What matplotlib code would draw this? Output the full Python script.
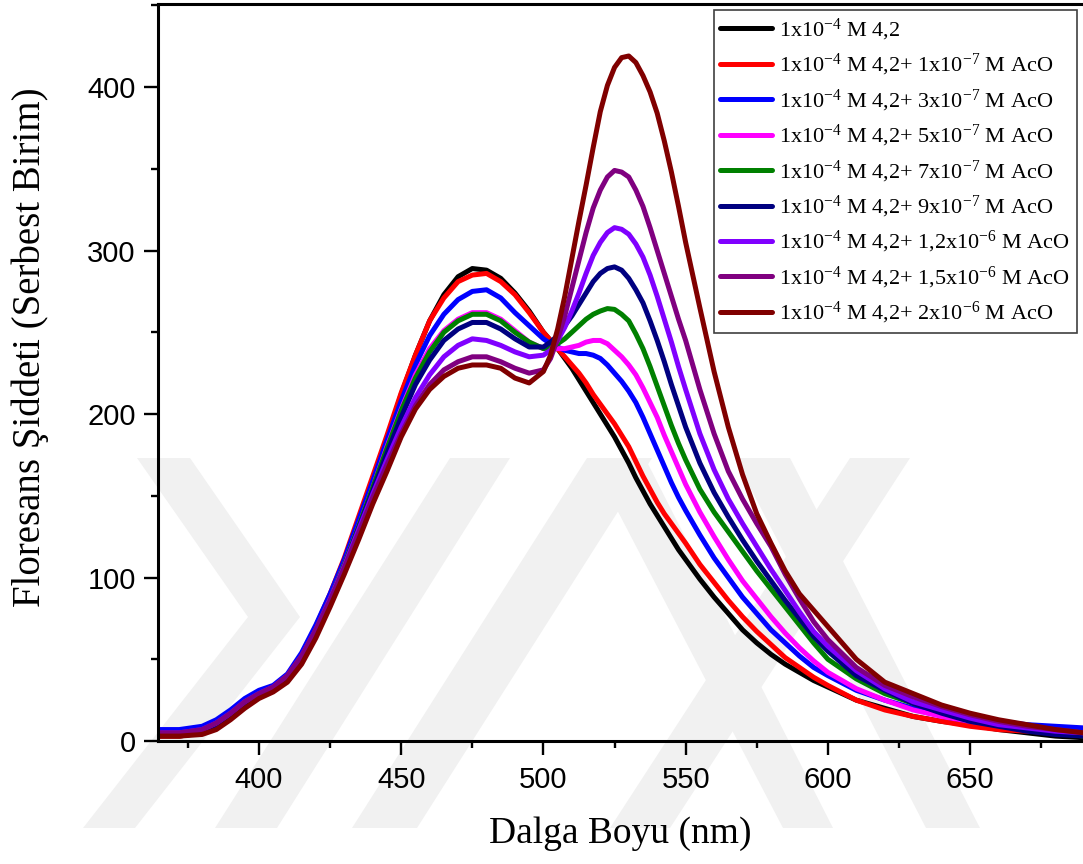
import matplotlib
matplotlib.use('Agg')
import matplotlib.pyplot as plt
from matplotlib.patches import Polygon
from matplotlib.ticker import MultipleLocator

plt.rcParams['font.family'] = 'Liberation Sans'
plt.rcParams['mathtext.fontset'] = 'custom'
plt.rcParams['mathtext.rm'] = 'Liberation Serif'
plt.rcParams['mathtext.it'] = 'Liberation Serif:italic'

# wavelength grid (nm), denser around the second band
wl = [365, 372, 380, 385, 390, 395, 400, 405, 410, 415, 420, 425, 430, 435, 440,
      445, 450, 455, 460, 465, 470, 475, 480, 485, 490, 495,
      500, 502.5, 505, 507.5, 510, 512.5, 515, 517.5, 520, 522.5, 525, 527.5,
      530, 532.5, 535, 537.5, 540, 542.5, 545, 547.5, 550,
      555, 560, 565, 570, 575, 580, 585, 590, 595, 600,
      610, 620, 630, 640, 650, 660, 670, 680, 690]

i_base = [3, 3, 5, 9, 15, 22, 27, 31, 38, 50, 68, 88, 110, 135, 160,
          185, 212, 236, 257, 273, 284, 289, 288, 283, 274, 263,
          250, 245, 240, 234, 228, 221, 214, 207, 200, 193, 186, 178,
          170, 161, 153, 145, 138, 131, 124, 117, 111,
          99, 88, 78, 68, 60, 53, 47, 42, 37, 33,
          25, 20, 15, 12, 10, 7, 5, 3, 2]
i_1e7 = [3, 3, 5, 9, 15, 22, 28, 32, 39, 52, 70, 90, 112, 137, 162,
         187, 213, 236, 257, 271, 281, 285, 286, 281, 273, 262,
         250, 245, 240, 235, 230, 225, 219, 212, 206, 200, 194, 187,
         180, 171, 162, 154, 146, 139, 133, 127, 121,
         108, 97, 86, 76, 67, 59, 51, 45, 39, 34,
         25, 19, 15, 12, 9, 7, 6, 5, 5]
i_3e7 = [7, 7, 9, 13, 19, 26, 31, 34, 41, 54, 71, 90, 111, 135, 159,
         184, 208, 230, 248, 261, 270, 275, 276, 271, 262, 254,
         246, 243, 241, 239, 238, 237, 237, 236, 234, 230, 225, 220,
         214, 207, 198, 188, 178, 168, 158, 149, 141,
         126, 112, 100, 88, 78, 68, 60, 52, 45, 40,
         31, 25, 20, 16, 14, 12, 10, 9, 8]
i_5e7 = [4, 4, 6, 10, 16, 23, 28, 32, 39, 51, 68, 87, 108, 131, 155,
         180, 203, 224, 240, 251, 258, 262, 262, 258, 251, 244,
         240, 240, 240, 240, 241, 242, 244, 245, 245, 243, 239, 235,
         230, 224, 216, 207, 198, 187, 177, 167, 157,
         140, 125, 111, 98, 87, 76, 66, 57, 49, 42,
         32, 25, 19, 15, 12, 10, 8, 6, 5]
i_7e7 = [4, 4, 6, 10, 16, 23, 28, 32, 39, 51, 68, 87, 108, 131, 155,
         179, 202, 222, 238, 250, 257, 261, 261, 257, 250, 244,
         240, 241, 243, 246, 250, 254, 258, 261, 263, 264.5, 264, 261,
         257, 249, 240, 229, 217, 205, 193, 182, 172,
         154, 140, 128, 116, 104, 93, 82, 71, 60, 50,
         38, 29, 23, 18, 14, 10, 7, 5, 3]
i_9e7 = [4, 4, 6, 10, 16, 23, 28, 32, 39, 51, 68, 87, 107, 130, 153,
         176, 198, 218, 233, 245, 252, 256, 256, 252, 246, 241,
         241, 244, 248, 254, 260, 267, 274, 281, 286, 289, 290, 288,
         283, 276, 268, 257, 245, 232, 218, 205, 192,
         170, 152, 137, 123, 110, 98, 86, 75, 64, 55,
         40, 31, 23, 17, 12, 9, 6, 4, 3]
i_12e6 = [5, 5, 7, 11, 17, 24, 29, 33, 40, 52, 68, 87, 107, 129, 151,
          172, 192, 210, 224, 235, 242, 246, 245, 242, 238, 235,
          236, 239, 245, 253, 263, 274, 286, 297, 305, 311, 314, 313,
          310, 304, 296, 285, 272, 258, 244, 229, 215,
          188, 166, 148, 133, 119, 105, 92, 79, 67, 58,
          43, 32, 24, 19, 14, 10, 8, 6, 5]
i_15e6 = [5, 5, 7, 11, 17, 24, 29, 33, 40, 52, 68, 86, 106, 127, 149,
          169, 188, 205, 218, 227, 232, 235, 235, 232, 228, 225,
          227, 234, 246, 260, 277, 294, 311, 326, 337, 345, 349, 348,
          345, 337, 327, 314, 300, 286, 272, 258, 245,
          215, 188, 165, 148, 133, 119, 102, 87, 73, 62,
          45, 34, 27, 21, 16, 12, 9, 7, 5]
i_2e6 = [3, 3, 4, 7, 13, 20, 26, 30, 36, 47, 63, 82, 102, 123, 145,
         165, 186, 203, 215, 223, 228, 230, 230, 228, 222, 219,
         226, 236, 252, 272, 295, 318, 340, 363, 385, 401, 412, 418,
         419, 415, 407, 397, 384, 367, 348, 327, 305,
         265, 226, 192, 163, 139, 121, 104, 90, 80, 70,
         50, 36, 29, 22, 17, 13, 10, 7, 5]

series = [i_base, i_1e7, i_3e7, i_5e7, i_7e7, i_9e7, i_12e6, i_15e6, i_2e6]
colors = ['#000000', '#ff0000', '#0000ff', '#ff00ff', '#008000',
          '#000080', '#8000ff', '#800080', '#800000']
labels = ['1x10$^{-4}$ M 4,2',
          '1x10$^{-4}$ M 4,2+ 1x10$^{-7}$ M AcO',
          '1x10$^{-4}$ M 4,2+ 3x10$^{-7}$ M AcO',
          '1x10$^{-4}$ M 4,2+ 5x10$^{-7}$ M AcO',
          '1x10$^{-4}$ M 4,2+ 7x10$^{-7}$ M AcO',
          '1x10$^{-4}$ M 4,2+ 9x10$^{-7}$ M AcO',
          '1x10$^{-4}$ M 4,2+ 1,2x10$^{-6}$ M AcO',
          '1x10$^{-4}$ M 4,2+ 1,5x10$^{-6}$ M AcO',
          '1x10$^{-4}$ M 4,2+ 2x10$^{-6}$ M AcO']

W, H = 1083, 864
fig = plt.figure(figsize=(W / 100, H / 100), dpi=100)

# faint background logo made of grey bands (pixel coords, y from top)
bands = [
    [(137, 458), (190, 458), (300, 617), (135, 828), (83, 828), (248, 617)],
    [(215, 828), (277, 828), (510, 458), (450, 458)],
    [(352, 828), (417, 828), (652, 458), (587, 458)],
    [(590, 458), (645, 458), (833, 828), (783, 828)],
    [(735, 458), (790, 458), (980, 828), (926, 828)],
    [(610, 828), (670, 828), (910, 458), (850, 458)],
]
for b in bands:
    pts = [(x / W, 1 - y / H) for x, y in b]
    fig.patches.append(Polygon(pts, closed=True, transform=fig.transFigure,
                               facecolor='#f1f1f1', edgecolor='none', zorder=-5))

ax = fig.add_axes([158 / W, 123 / H, 1 - 158 / W, (741 - 4) / H])
ax.set_facecolor('none')

for y, c, lab in zip(series, colors, labels):
    ax.plot(wl, y, color=c, lw=3.6, label=lab,
            solid_joinstyle='round', solid_capstyle='round')

ax.set_xlim(364.5, 689.7)
ax.set_ylim(0, 450.8)
ax.xaxis.set_major_locator(MultipleLocator(50))
ax.xaxis.set_minor_locator(MultipleLocator(25))
ax.yaxis.set_major_locator(MultipleLocator(100))
ax.yaxis.set_minor_locator(MultipleLocator(50))

for side in ['left', 'bottom', 'top']:
    ax.spines[side].set_linewidth(2.2)
ax.spines['right'].set_visible(False)
ax.tick_params(which='major', direction='out', length=10, width=1.7,
               labelsize=21, pad=8, top=False, right=False)
ax.tick_params(which='minor', direction='out', length=5, width=1.7,
               top=False, right=False)
ax.tick_params(axis='y', pad=6)

ax.set_xlabel('Dalga Boyu (nm)', fontfamily='Liberation Serif', fontsize=27, labelpad=16)
fig.text(30 / W, 1 - 347 / H, 'Floresans Şiddeti (Serbest Birim)',
         fontfamily='Liberation Serif', fontsize=28, rotation=90,
         ha='center', va='center')

leg = ax.legend(loc='upper right', bbox_to_anchor=(1077 / W, 1 - 10 / H),
                bbox_transform=fig.transFigure, borderaxespad=0,
                prop={'family': 'Liberation Serif', 'size': 16},
                handlelength=2.3, handletextpad=0.35, labelspacing=0.42,
                borderpad=0.3, fancybox=False, framealpha=1)
leg.get_frame().set_edgecolor('#404040')
leg.get_frame().set_linewidth(1.2)

fig.savefig('out.png', dpi=100)
